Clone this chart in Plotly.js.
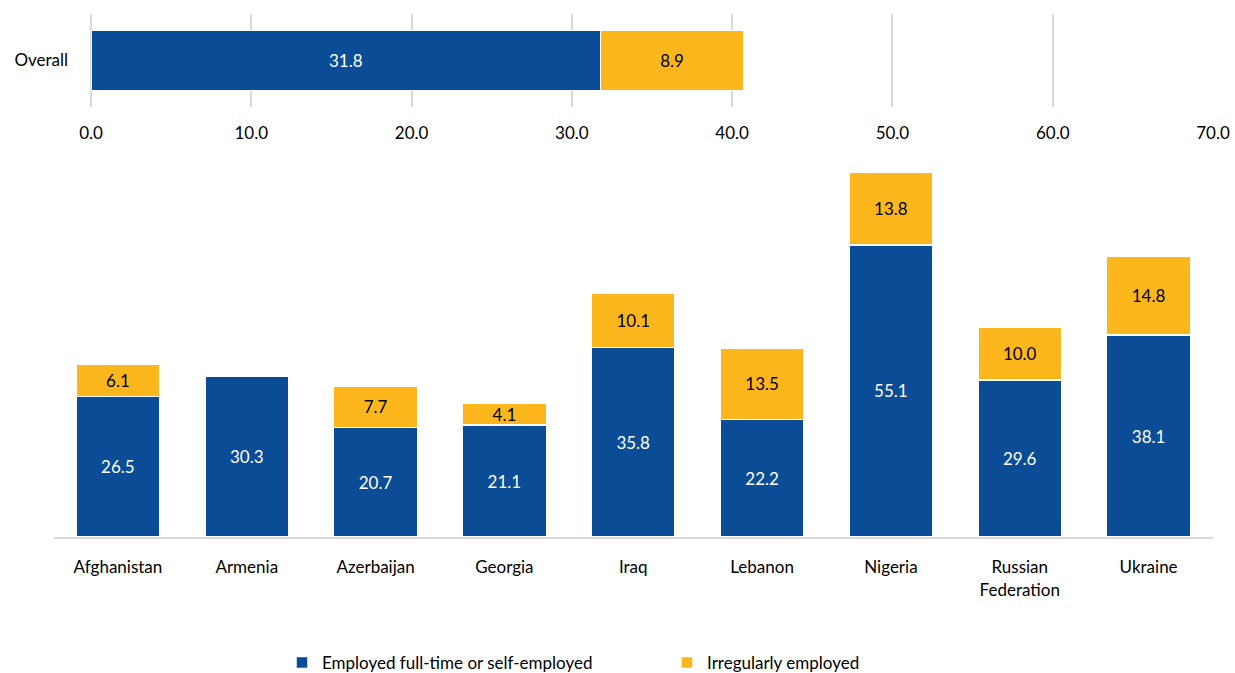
<!DOCTYPE html>
<html>
<head>
<meta charset="utf-8">
<script src="https://cdn.plot.ly/plotly-3.0.1.min.js"></script>
<style>html,body{margin:0;padding:0;background:#fff}#chart{width:1235px;height:673px}</style>
</head>
<body>
<div id="chart"></div>
<script>
const countries = ["Afghanistan","Armenia","Azerbaijan","Georgia","Iraq","Lebanon","Nigeria","Russian<br>Federation","Ukraine"];
const employed = [26.5, 30.3, 20.7, 21.1, 35.8, 22.2, 55.1, 29.6, 38.1];
const irregular = [6.1, null, 7.7, 4.1, 10.1, 13.5, 13.8, 10.0, 14.8];
const overallLabel = ["Overall"];
const overallEmployed = [31.8];
const overallIrregular = [8.9];
const seriesNames = ["Employed full-time or self-employed", "Irregularly employed"];

const BLUE = "#0B4C97";
const YELLOW = "#FDB71C";
const FONT = "Lato, 'DejaVu Sans', sans-serif";
const FS = 17;
const W = 1235, H = 673;

const common = {
  type: "bar",
  textposition: "inside",
  insidetextanchor: "middle",
  constraintext: "none",
  textangle: 0,
  hoverinfo: "skip"
};

const data = [
  Object.assign({}, common, {
    x: overallEmployed, y: overallLabel, orientation: "h", xaxis: "x", yaxis: "y",
    name: seriesNames[0], showlegend: false, width: 0.65,
    marker: {color: BLUE, line: {color: "#ffffff", width: 1.5}},
    texttemplate: "%{x:.1f}", textfont: {color: "#ffffff", size: FS, family: FONT}
  }),
  Object.assign({}, common, {
    x: overallIrregular, y: overallLabel, orientation: "h", xaxis: "x", yaxis: "y",
    name: seriesNames[1], showlegend: false, width: 0.65,
    marker: {color: YELLOW, line: {color: "#ffffff", width: 1.5}},
    texttemplate: "%{x:.1f}", textfont: {color: "#000000", size: FS, family: FONT}
  }),
  Object.assign({}, common, {
    x: countries, y: employed, xaxis: "x2", yaxis: "y2",
    name: seriesNames[0], width: 0.65,
    marker: {color: BLUE, line: {color: "#ffffff", width: 1.5}},
    texttemplate: "%{y:.1f}", textfont: {color: "#ffffff", size: FS, family: FONT}
  }),
  Object.assign({}, common, {
    x: countries, y: irregular, xaxis: "x2", yaxis: "y2",
    name: seriesNames[1], width: 0.65,
    marker: {color: YELLOW, line: {color: "#ffffff", width: 1.5}},
    texttemplate: "%{y:.1f}", textfont: {color: "#000000", size: FS, family: FONT}
  })
];

const layout = {
  width: W, height: H,
  margin: {l: 0, r: 0, t: 0, b: 0, autoexpand: false},
  paper_bgcolor: "#ffffff", plot_bgcolor: "rgba(0,0,0,0)",
  font: {family: FONT, size: FS, color: "#000000"},
  barmode: "stack",
  bargap: 0.35,
  xaxis: {
    domain: [91/W, 1213/W], range: [0, 70], dtick: 10, tick0: 0,
    tickformat: ".1f", showgrid: true, gridcolor: "#d9d9d9", gridwidth: 2,
    zeroline: true, zerolinecolor: "#d9d9d9", zerolinewidth: 2,
    showline: false, ticks: "", ticklabelstandoff: 14, automargin: false,
    anchor: "y", fixedrange: true
  },
  yaxis: {
    domain: [1 - 107/H, 1 - 14/H], range: [-0.5, 0.5],
    showgrid: false, zeroline: false, showline: false, ticks: "",
    ticklabelstandoff: 22, automargin: false, anchor: "x", fixedrange: true
  },
  xaxis2: {
    domain: [53.5/W, 1213/W], anchor: "y2",
    showline: true, linecolor: "#d9d9d9", linewidth: 2,
    showgrid: false, zeroline: false, ticks: "", ticklabelstandoff: 14,
    automargin: false, fixedrange: true
  },
  yaxis2: {
    domain: [1 - 537/H, 1 - 139.5/H], range: [0, 75], anchor: "x2",
    visible: false, showgrid: false, zeroline: false, fixedrange: true
  },
  legend: {
    orientation: "h", x: 282/W, xanchor: "left", y: 1 - 663/H, yanchor: "middle",
    font: {family: FONT, size: FS, color: "#000000"},
    entrywidth: 340, entrywidthmode: "pixels", traceorder: "normal",
    bgcolor: "rgba(0,0,0,0)"
  },
  showlegend: true
};

Plotly.newPlot("chart", data, layout, {displayModeBar: false, staticPlot: true});
</script>
</body>
</html>
